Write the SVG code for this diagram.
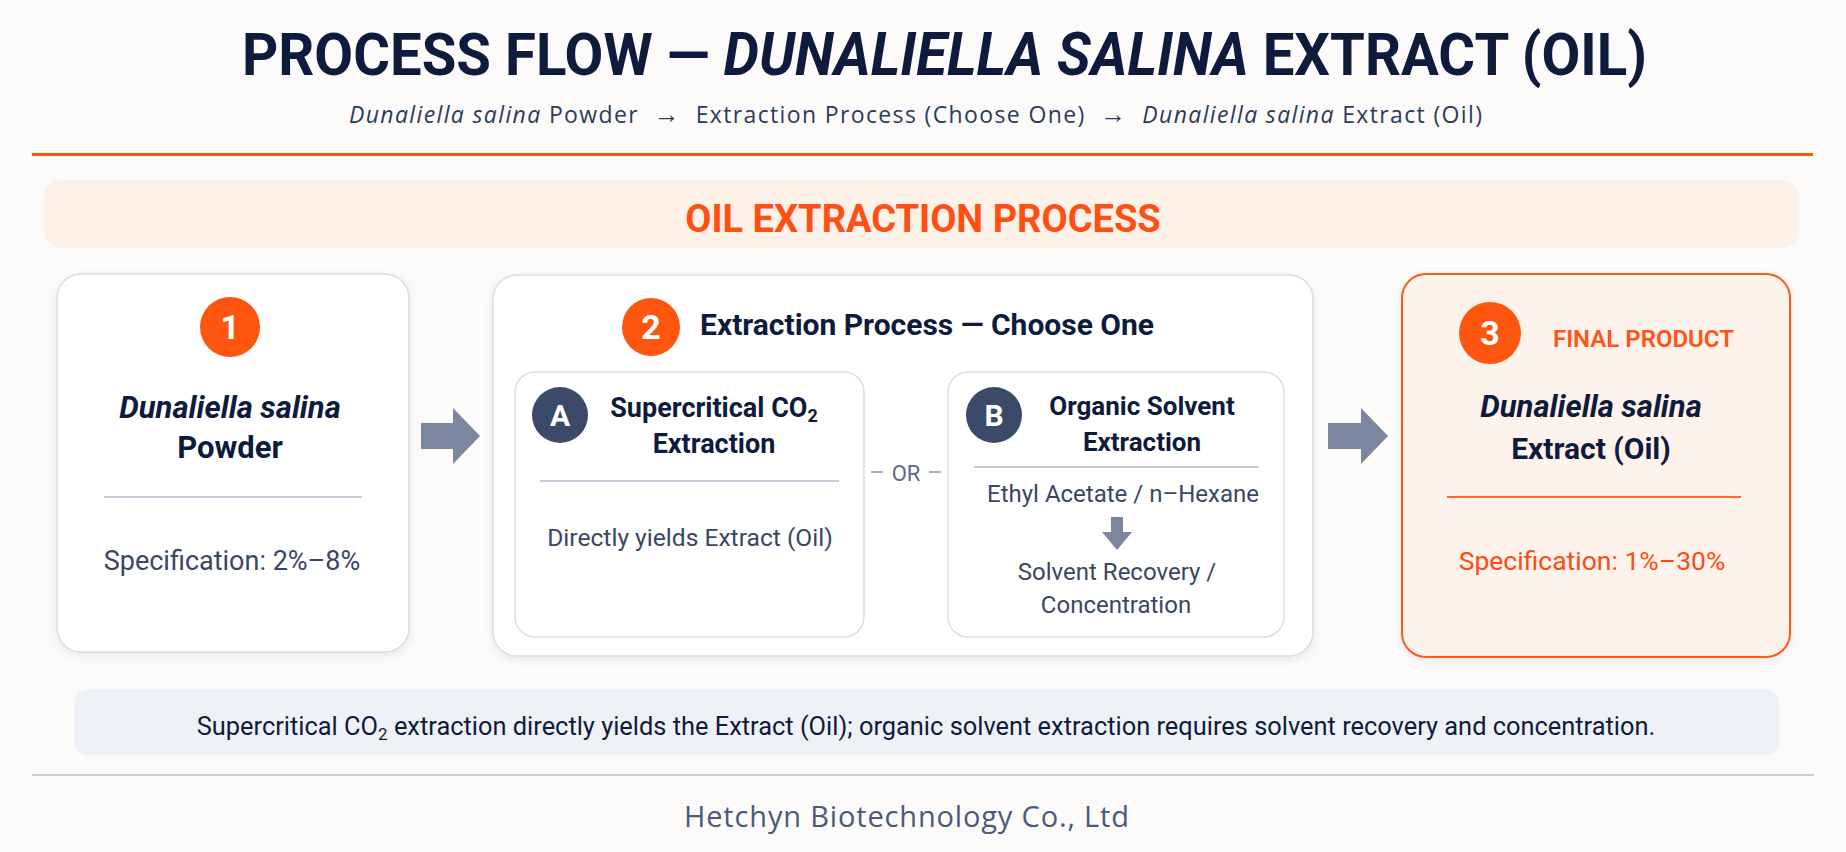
<svg xmlns="http://www.w3.org/2000/svg" width="1846" height="852" viewBox="0 0 1846 852">
<defs>
<style>
text{font-family:Roboto,"Liberation Sans",sans-serif;}
.navy{fill:#0F1B3D;}
.b{font-weight:700;}
.it{font-style:italic;}
.card{fill:#FFFFFF;stroke:#D6DCE7;stroke-width:1.5;}
.sub{fill:#FFFFFF;stroke:#D9DEE7;stroke-width:1.5;}
.div{stroke:#C5CDDA;stroke-width:2;}
.body{fill:#3A4763;font-size:24px;}
.num{fill:#FFFFFF;font-weight:700;font-size:34px;text-anchor:middle;}
.let{fill:#FFFFFF;font-weight:700;font-size:30px;text-anchor:middle;}
.arrow{fill:#7A879E;}
.mid{text-anchor:middle;}
.hum{font-family:"Open Sans","Noto Sans","Liberation Sans",sans-serif;}
</style>
<filter id="sh" x="-10%" y="-10%" width="120%" height="125%">
<feDropShadow dx="0" dy="3" stdDeviation="4" flood-color="#1F2A44" flood-opacity="0.08"/>
</filter>
</defs>
<rect x="0" y="0" width="1846" height="852" fill="#FCFBF9"/>

<g id="header">
<text x="242" y="75" class="navy b" font-size="60" textLength="1405" lengthAdjust="spacingAndGlyphs">PROCESS FLOW — <tspan class="it">DUNALIELLA SALINA</tspan> EXTRACT (OIL)</text>
<text x="349" y="123" class="hum" font-size="23" fill="#2D3B5A" textLength="1133" lengthAdjust="spacing"><tspan class="it">Dunaliella salina</tspan> Powder&#160;&#160;<tspan font-size="26">→</tspan>&#160;&#160;Extraction Process (Choose One)&#160;&#160;<tspan font-size="26">→</tspan>&#160;&#160;<tspan class="it">Dunaliella salina</tspan> Extract (Oil)</text>
<rect x="32" y="153" width="1781" height="3" fill="#FF5414"/>
</g>

<g id="band">
<rect x="44" y="180" width="1755" height="68" rx="18" fill="#FDF1E8"/>
<text x="923" y="232" class="mid b" font-size="38" fill="#FF4F12">OIL EXTRACTION PROCESS</text>
</g>

<g id="node1">
<rect x="57" y="274" width="352" height="378" rx="24" class="card" filter="url(#sh)"/>
<circle cx="230" cy="327" r="30" fill="#FF560F"/>
<text x="230" y="339" class="num">1</text>
<text x="230" y="418" class="mid navy b it" font-size="31">Dunaliella salina</text>
<text x="230" y="458" class="mid navy b" font-size="31">Powder</text>
<line x1="104" y1="497" x2="362" y2="497" class="div"/>
<text x="232" y="570" class="mid body" style="font-size:27px">Specification: 2%–8%</text>
</g>

<g id="node2">
<rect x="493" y="275" width="820" height="381" rx="24" class="card" filter="url(#sh)"/>
<circle cx="651" cy="327" r="29" fill="#FF560F"/>
<text x="651" y="339" class="num">2</text>
<text x="700" y="335" class="navy b" font-size="30">Extraction Process — Choose One</text>
</g>

<g id="optionA">
<rect x="515" y="372" width="349" height="265" rx="20" class="sub"/>
<circle cx="560" cy="415" r="28" fill="#3A4A68"/>
<text x="560" y="426" class="let">A</text>
<text x="714" y="417" class="mid navy b" font-size="27">Supercritical CO<tspan font-size="18" baseline-shift="-5">2</tspan></text>
<text x="714" y="453" class="mid navy b" font-size="27">Extraction</text>
<line x1="540" y1="481" x2="839" y2="481" class="div"/>
<text x="690" y="546" class="mid body" style="font-size:24.6px">Directly yields Extract (Oil)</text>
</g>

<g id="or">
<line x1="871" y1="472" x2="883" y2="472" stroke="#8A96AB" stroke-width="1.5"/>
<line x1="929" y1="472" x2="941" y2="472" stroke="#8A96AB" stroke-width="1.5"/>
<text x="906" y="481" class="mid" font-size="22" fill="#5E6A82">OR</text>
</g>

<g id="optionB">
<rect x="948" y="372" width="336" height="265" rx="20" class="sub"/>
<circle cx="994" cy="415" r="28" fill="#3A4A68"/>
<text x="994" y="426" class="let">B</text>
<text x="1142" y="415" class="mid navy b" font-size="26">Organic Solvent</text>
<text x="1142" y="451" class="mid navy b" font-size="26">Extraction</text>
<line x1="974" y1="467" x2="1259" y2="467" class="div" stroke-width="1.5"/>
<text x="1123" y="502" class="mid body">Ethyl Acetate / n–Hexane</text>
<path d="M1111 517 H1123 V532 H1132 L1117 550 L1102 532 H1111 Z" class="arrow"/>
<text x="1117" y="580" class="mid body">Solvent Recovery /</text>
<text x="1116" y="613" class="mid body">Concentration</text>
</g>

<g id="node3">
<rect x="1402" y="274" width="388" height="383" rx="24" fill="#FEF3EC" stroke="#FF5A1F" stroke-width="2" filter="url(#sh)"/>
<circle cx="1490" cy="333" r="31" fill="#FF560F"/>
<text x="1490" y="345" class="num">3</text>
<text x="1553" y="347" font-size="24" font-weight="600" fill="#FF5414">FINAL PRODUCT</text>
<text x="1591" y="417" class="mid navy b it" font-size="31">Dunaliella salina</text>
<text x="1591" y="459" class="mid navy b" font-size="30">Extract (Oil)</text>
<line x1="1447" y1="497" x2="1741" y2="497" stroke="#FF6A33" stroke-width="2"/>
<text x="1592" y="570" class="mid" font-size="26.5" fill="#FF4A10">Specification: 1%–30%</text>
</g>

<g id="connectors">
<path d="M421 423 H453 V408 L480 436 L453 464 V449 H421 Z" class="arrow"/>
<path d="M1328 423 H1361 V408 L1388 436 L1361 464 V449 H1328 Z" class="arrow"/>
</g>

<g id="note">
<rect x="74" y="689" width="1705" height="66" rx="14" fill="#EEF1F6"/>
<text x="926" y="735" class="mid navy" font-size="25.4">Supercritical CO<tspan font-size="17" baseline-shift="-5">2</tspan> extraction directly yields the Extract (Oil); organic solvent extraction requires solvent recovery and concentration.</text>
</g>

<g id="footer">
<line x1="32" y1="775" x2="1814" y2="775" stroke="#C9D1DD" stroke-width="2"/>
<text x="684" y="827" class="hum" font-size="29" fill="#4B5A78" textLength="445" lengthAdjust="spacing">Hetchyn Biotechnology Co., Ltd</text>
</g>
</svg>
